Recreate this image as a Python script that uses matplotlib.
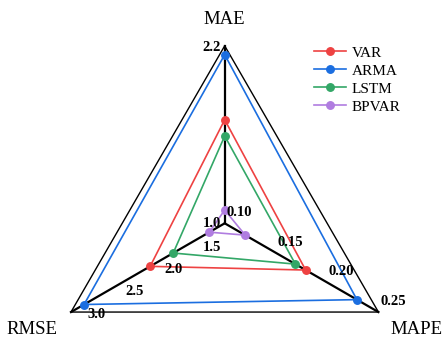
import numpy as np
import matplotlib
matplotlib.use("Agg")
import matplotlib.pyplot as plt

# ---- data ----
axes_names = ["MAE", "RMSE", "MAPE"]
axis_min = [1.0, 1.0, 0.10]
axis_max = [2.2, 3.0, 0.25]
series_names = ["VAR", "ARMA", "LSTM", "BPVAR"]
var_vals = [1.70, 1.97, 0.179]
arma_vals = [2.14, 2.83, 0.229]
lstm_vals = [1.59, 1.67, 0.169]
bpvar_vals = [1.09, 1.20, 0.120]
rmse_ticks = [1.5, 2.0, 2.5, 3.0]
mape_ticks = [0.10, 0.15, 0.20, 0.25]
mae_ticks = [2.2]
colors = ["#EE4242", "#1B6EE0", "#33A767", "#B07DE0"]

plt.rcParams["font.family"] = ["Liberation Serif", "DejaVu Serif"]

W, H = 442, 339
fig = plt.figure(figsize=(W / 100, H / 100), dpi=100)
ax = fig.add_axes([0, 0, 1, 1])
ax.set_xlim(0, W)
ax.set_ylim(H, 0)
ax.axis("off")

cx, cy, R = 224.7, 223.3, 177.5
angles = np.deg2rad([90, 210, 330])


def pos(i, v):
    f = (v - axis_min[i]) / (axis_max[i] - axis_min[i])
    return cx + R * f * np.cos(angles[i]), cy - R * f * np.sin(angles[i])


# outer triangle
vx = [cx + R * np.cos(a) for a in angles] + [cx + R * np.cos(angles[0])]
vy = [cy - R * np.sin(a) for a in angles] + [cy - R * np.sin(angles[0])]
ax.plot(vx, vy, color="black", lw=1.0, zorder=1)
# spokes
for a in angles:
    ax.plot([cx, cx + R * np.cos(a)], [cy, cy - R * np.sin(a)], color="black", lw=1.6, zorder=2)

# series
for name, vals, c in zip(series_names, [var_vals, arma_vals, lstm_vals, bpvar_vals], colors):
    pts = [pos(i, v) for i, v in enumerate(vals)]
    xs = [p[0] for p in pts] + [pts[0][0]]
    ys = [p[1] for p in pts] + [pts[0][1]]
    ax.plot(xs, ys, color=c, lw=1.2, zorder=3)
    ax.plot(xs[:-1], ys[:-1], "o", color=c, ms=5.4, zorder=4)
    ax.plot([], [], "-o", color=c, lw=1.2, ms=5.4, label=name)

tk = dict(fontsize=10.5, fontweight="bold", ha="center", va="center", zorder=5)
for t in mae_ticks:
    x, y = pos(0, t)
    ax.text(x - 13, y + 2, f"{t:.1f}", **tk)
x, y = pos(1, 1.0)
ax.text(x - 13, y, "1.0", **tk)
for t in rmse_ticks:
    x, y = pos(1, t)
    ax.text(x + 25.5, y + 2, f"{t:.1f}", **tk)
for t in mape_ticks:
    x, y = pos(2, t)
    ax.text(x + 14.5, y - 10.5, f"{t:.2f}", **tk)

ax.text(224.7, 19, axes_names[0], fontsize=13.5, ha="center", va="center")
ax.text(31.7, 330, axes_names[1], fontsize=13.5, ha="center", va="center")
ax.text(416.5, 330, axes_names[2], fontsize=13.5, ha="center", va="center")

ax.legend(loc="upper left", bbox_to_anchor=(314 / W, 1 - 46 / H), frameon=False,
          fontsize=11, handlelength=2.1, handletextpad=0.35, labelspacing=0.28,
          borderaxespad=0, borderpad=0)

fig.savefig("out.png", dpi=100)
